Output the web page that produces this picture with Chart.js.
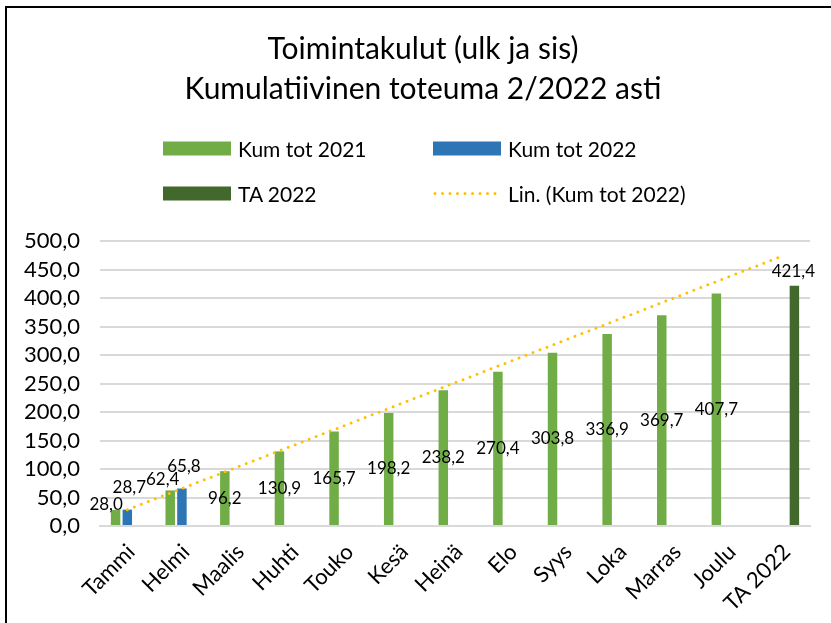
<!DOCTYPE html>
<html>
<head>
<meta charset="utf-8">
<script src="https://cdn.jsdelivr.net/npm/chart.js@4.4.1/dist/chart.umd.min.js"></script>
<style>
html,body{margin:0;padding:0;background:#fff;overflow:hidden;}
#wrap{position:relative;width:831px;height:623px;overflow:hidden;}
#c{position:absolute;left:0;top:0;}
#frame{position:absolute;left:5px;top:6px;width:900px;height:700px;border:2px solid #000;box-sizing:border-box;pointer-events:none;}
#title{position:absolute;left:0;top:27px;width:846px;text-align:center;font-family:Lato,"Open Sans",sans-serif;font-size:30px;line-height:40px;color:#000;}
#legend{position:absolute;left:0;top:0;width:831px;height:0;font-family:Lato,"Open Sans",sans-serif;font-size:21px;color:#000;}
.li{position:absolute;display:flex;align-items:center;white-space:nowrap;transform:translateY(-50%);}
.sw{width:68px;height:14px;margin-right:7px;}
</style>
</head>
<body>
<div id="wrap">
  <canvas id="c" width="831" height="623"></canvas>
  <div id="frame"></div>
  <div id="title"></div>
  <div id="legend"></div>
</div>
<script>
// ---- data ----
const titleLines = ['Toimintakulut (ulk ja sis)', 'Kumulatiivinen toteuma 2/2022 asti'];
const categories = ['Tammi','Helmi','Maalis','Huhti','Touko','Kesä','Heinä','Elo','Syys','Loka','Marras','Joulu','TA 2022'];
const kumTot2021 = [28.0, 62.4, 96.2, 130.9, 165.7, 198.2, 238.2, 270.4, 303.8, 336.9, 369.7, 407.7, null];
const kumTot2022 = [28.7, 65.8, null, null, null, null, null, null, null, null, null, null, null];
const ta2022     = [null, null, null, null, null, null, null, null, null, null, null, null, 421.4];
const trendKumTot2022 = [28.7, null, null, null, null, null, null, null, null, null, null, null, 473.9];
const seriesNames = ['Kum tot 2021', 'Kum tot 2022', 'TA 2022', 'Lin. (Kum tot 2022)'];
const yMin = 0, yMax = 500, yStep = 50;

// ---- styles ----
const FONT = 'Lato, "Open Sans", sans-serif';
const fmt = v => v.toFixed(1).replace('.', ',');

const labelPlugin = {
  id: 'barLabels',
  afterDatasetsDraw(chart, args, opts) {
    const ctx = chart.ctx;
    ctx.save();
    ctx.font = opts.size + 'px ' + FONT;
    ctx.fillStyle = '#000';
    ctx.textAlign = 'center';
    ctx.textBaseline = 'middle';
    chart.data.datasets.forEach((ds, di) => {
      const cfg = opts.placement[di];
      if (!cfg) return;
      const meta = chart.getDatasetMeta(di);
      meta.data.forEach((el, i) => {
        const v = ds.data[i];
        if (v == null) return;
        let x = el.x, y;
        const ov = cfg.overrides && cfg.overrides[i];
        if (ov) { x += ov[0]; y = el.y + ov[1]; }
        else if (cfg.mode === 'center') { y = (el.y + el.base) / 2; x += cfg.dx || 0; }
        else { y = el.y + cfg.dy; x += cfg.dx || 0; }
        ctx.fillText(fmt(v), x, y);
      });
    });
    ctx.restore();
  }
};

document.getElementById('title').innerHTML = titleLines.map(t => '<div>' + t + '</div>').join('');

const barCat = 0.643, barPct = 0.81;
const chart = new Chart(document.getElementById('c'), {
  data: {
    labels: categories,
    datasets: [
      { type: 'bar', label: seriesNames[0], data: kumTot2021, backgroundColor: '#70AD47', categoryPercentage: barCat, barPercentage: barPct, order: 1 },
      { type: 'bar', label: seriesNames[1], data: kumTot2022, backgroundColor: '#2E75B6', categoryPercentage: barCat, barPercentage: barPct, order: 1 },
      { type: 'bar', label: seriesNames[2], data: ta2022, backgroundColor: '#43682B', categoryPercentage: barCat, barPercentage: barPct, order: 1 },
      { type: 'line', label: seriesNames[3], data: trendKumTot2022, borderColor: '#FFC000', borderWidth: 3,
        borderDash: [0, 7.5], borderCapStyle: 'round', pointRadius: 0, spanGaps: true, fill: false, order: 0 }
    ]
  },
  options: {
    responsive: false,
    animation: false,
    layout: { padding: { left: 0, right: 21, top: 241, bottom: 0 } },
    plugins: {
      legend: { display: false },
      tooltip: { enabled: false },
      title: { display: false },
      barLabels: {
        size: 17,
        placement: {
          0: { mode: 'center', overrides: { 0: [-9.5, -6], 1: [-7.5, -11.4] } },
          1: { mode: 'above', dx: 2, dy: -22 },
          2: { mode: 'above', dx: -1, dy: -14 }
        }
      }
    },
    scales: {
      x: {
        grid: { display: false, drawTicks: false },
        border: { display: true, color: '#D9D9D9', width: 2 },
        ticks: { color: '#000', font: { family: FONT, size: 22 }, maxRotation: 45, minRotation: 45, autoSkip: false, padding: 13, labelOffset: 4 },
        afterFit(s) { s.height = 97; }
      },
      y: {
        min: yMin, max: yMax,
        ticks: { stepSize: yStep, autoSkip: false, color: '#000', font: { family: FONT, size: 22 }, padding: 20, callback: v => fmt(v) },
        grid: { color: '#D9D9D9', lineWidth: 2, drawTicks: false },
        border: { display: false },
        afterFit(s) { s.width = 100; }
      }
    }
  },
  plugins: [labelPlugin]
});

// ---- HTML legend (2 x 2 grid) built from the chart's datasets ----
const legendSlots = [ { left: 163, top: 148 }, { left: 433, top: 148 }, { left: 163, top: 193 }, { left: 433, top: 193 } ];
const legend = document.getElementById('legend');
chart.data.datasets.forEach((ds, i) => {
  const item = document.createElement('div');
  item.className = 'li';
  item.style.left = legendSlots[i].left + 'px';
  item.style.top = legendSlots[i].top + 'px';
  let sw;
  if (ds.type === 'line') {
    sw = document.createElementNS('http://www.w3.org/2000/svg', 'svg');
    sw.setAttribute('width', '68'); sw.setAttribute('height', '14');
    sw.style.marginRight = '7px';
    const ln = document.createElementNS('http://www.w3.org/2000/svg', 'line');
    ln.setAttribute('x1', '2'); ln.setAttribute('x2', '68'); ln.setAttribute('y1', '7'); ln.setAttribute('y2', '7');
    ln.setAttribute('stroke', ds.borderColor); ln.setAttribute('stroke-width', '3');
    ln.setAttribute('stroke-dasharray', '0 7.5'); ln.setAttribute('stroke-linecap', 'round');
    sw.appendChild(ln);
  } else {
    sw = document.createElement('div');
    sw.className = 'sw';
    sw.style.background = ds.backgroundColor;
  }
  const tx = document.createElement('span');
  tx.textContent = ds.label;
  item.appendChild(sw); item.appendChild(tx);
  legend.appendChild(item);
});
</script>
</body>
</html>
